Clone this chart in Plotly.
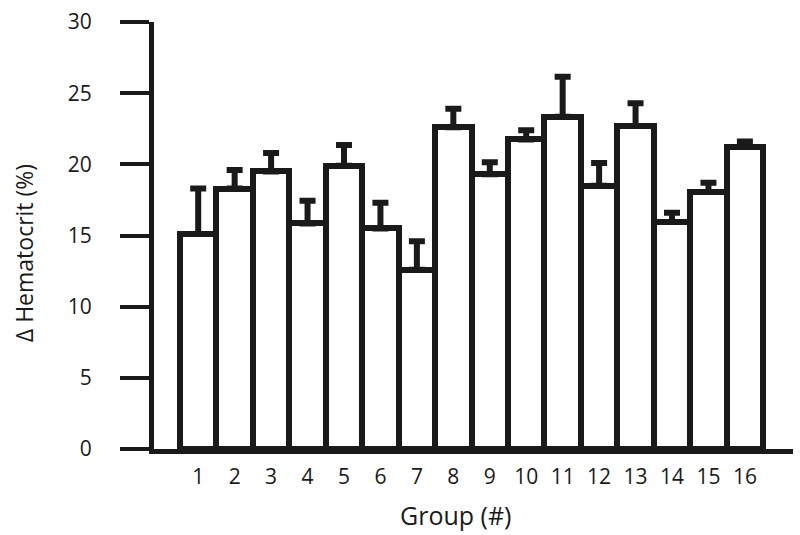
import plotly.graph_objects as go

groups = list(range(1, 17))
group_labels = [str(g) for g in groups]
hematocrit = [15.1, 18.3, 19.5, 15.85, 19.9, 15.5, 12.6, 22.6,
              19.3, 21.75, 23.35, 18.5, 22.7, 15.95, 18.05, 21.25]
err_up = [3.2, 1.3, 1.3, 1.6, 1.45, 1.8, 2.0, 1.3,
          0.85, 0.65, 2.8, 1.6, 1.6, 0.65, 0.65, 0.35]
err_down = [0] * len(groups)
y_ticks = [0, 5, 10, 15, 20, 25, 30]

ink = "#1a1a1a"
font = "Open Sans"

fig = go.Figure()
fig.add_trace(go.Bar(
    x=groups, y=hematocrit,
    width=1,
    marker=dict(color="white", line=dict(color=ink, width=6)),
    error_y=dict(type="data", symmetric=False, array=err_up,
                 arrayminus=err_down, color=ink, thickness=6, width=8),
    showlegend=False,
))

fig.update_layout(
    width=800, height=535,
    margin=dict(l=154, r=7, t=13, b=86),
    paper_bgcolor="white", plot_bgcolor="white",
    bargap=0,
    font=dict(family=font, color=ink),
)
fig.update_xaxes(
    range=[-0.213, 17.32],
    tickvals=groups, ticktext=group_labels,
    ticks="", showgrid=False, zeroline=False,
    showline=True, linecolor=ink, linewidth=5,
    tickfont=dict(size=21, family=font, color=ink),
    ticklabelstandoff=5,
)
fig.update_yaxes(
    range=[0, 30],
    tickvals=y_ticks,
    ticks="outside", ticklen=29, tickwidth=4, tickcolor=ink,
    ticklabeloverflow="allow",
    showgrid=False, zeroline=False,
    showline=True, linecolor=ink, linewidth=5,
    tickfont=dict(size=21, family=font, color=ink),
    ticklabelstandoff=24,
)
# axis titles sit off the plot centre in the original, so place them by hand
fig.add_annotation(
    text="Group (#)", xref="paper", yref="paper", x=0.4726, y=0,
    xanchor="center", yanchor="middle", yshift=-66, showarrow=False,
    font=dict(size=25, family=font, color=ink),
)
fig.add_annotation(
    text="Δ Hematocrit (%)", xref="paper", yref="paper", x=0, y=0.4587,
    xanchor="center", yanchor="middle", xshift=-130, textangle=-90,
    showarrow=False, font=dict(size=23, family=font, color=ink),
)

# drop the page's default body margin so the figure sits at the window corner
fig.write_html("out.html", config={"displayModeBar": False},
               post_script="document.body.style.margin='0';")
